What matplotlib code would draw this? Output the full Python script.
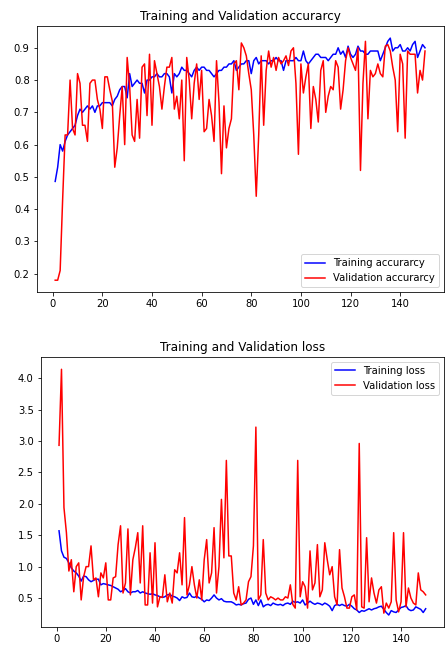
import matplotlib
matplotlib.use("Agg")
import matplotlib.pyplot as plt

# values, epochs 1..150
train_acc = [
    0.486, 0.53, 0.60, 0.58, 0.61, 0.63, 0.64, 0.65, 0.66, 0.69,
    0.71, 0.70, 0.71, 0.72, 0.71, 0.72, 0.70, 0.72, 0.72, 0.73,
    0.73, 0.73, 0.73, 0.72, 0.74, 0.75, 0.77, 0.78, 0.78, 0.745,
    0.82, 0.78, 0.79, 0.80, 0.79, 0.79, 0.76, 0.80, 0.80, 0.81,
    0.81, 0.82, 0.81, 0.81, 0.82, 0.82, 0.81, 0.76, 0.82, 0.81,
    0.82, 0.84, 0.83, 0.83, 0.82, 0.81, 0.83, 0.84, 0.83, 0.84,
    0.84, 0.83, 0.83, 0.82, 0.81, 0.82, 0.83, 0.83, 0.84, 0.84,
    0.85, 0.85, 0.86, 0.83, 0.84, 0.85, 0.85, 0.86, 0.86, 0.82,
    0.86, 0.87, 0.85, 0.86, 0.86, 0.86, 0.85, 0.86, 0.86, 0.87,
    0.86, 0.86, 0.83, 0.86, 0.86, 0.86, 0.86, 0.87, 0.86, 0.86,
    0.89, 0.86, 0.85, 0.86, 0.87, 0.88, 0.88, 0.87, 0.87, 0.87,
    0.86, 0.87, 0.88, 0.88, 0.90, 0.88, 0.89, 0.87, 0.905, 0.88,
    0.87, 0.88, 0.905, 0.89, 0.89, 0.88, 0.88, 0.89, 0.89, 0.89,
    0.89, 0.86, 0.88, 0.90, 0.92, 0.93, 0.89, 0.90, 0.90, 0.91,
    0.89, 0.89, 0.90, 0.89, 0.91, 0.92, 0.87, 0.89, 0.91, 0.90,
]

val_acc = [
    0.18, 0.18, 0.21, 0.43, 0.63, 0.63, 0.80, 0.65, 0.63, 0.82,
    0.79, 0.66, 0.66, 0.61, 0.79, 0.80, 0.80, 0.74, 0.71, 0.65,
    0.81, 0.81, 0.77, 0.735, 0.53, 0.59, 0.69, 0.78, 0.60, 0.87,
    0.78, 0.63, 0.61, 0.74, 0.62, 0.84, 0.85, 0.69, 0.88, 0.66,
    0.86, 0.82, 0.78, 0.71, 0.78, 0.84, 0.84, 0.87, 0.71, 0.75,
    0.68, 0.80, 0.55, 0.87, 0.80, 0.68, 0.79, 0.85, 0.74, 0.83,
    0.64, 0.65, 0.74, 0.69, 0.61, 0.86, 0.73, 0.51, 0.72, 0.59,
    0.65, 0.68, 0.85, 0.86, 0.77, 0.915, 0.90, 0.875, 0.82, 0.77,
    0.63, 0.44, 0.63, 0.875, 0.66, 0.83, 0.89, 0.84, 0.87, 0.83,
    0.87, 0.85, 0.86, 0.875, 0.845, 0.89, 0.90, 0.79, 0.57, 0.85,
    0.76, 0.81, 0.85, 0.65, 0.78, 0.74, 0.67, 0.83, 0.86, 0.70,
    0.75, 0.78, 0.77, 0.86, 0.84, 0.71, 0.77, 0.86, 0.90, 0.87,
    0.85, 0.83, 0.90, 0.52, 0.79, 0.92, 0.68, 0.83, 0.81, 0.82,
    0.85, 0.82, 0.81, 0.905, 0.91, 0.89, 0.84, 0.80, 0.64, 0.88,
    0.85, 0.62, 0.89, 0.88, 0.88, 0.88, 0.76, 0.83, 0.80, 0.89,
]

train_loss = [
    1.57, 1.25, 1.15, 1.13, 1.06, 0.98, 0.93, 0.90, 0.85, 0.77,
    0.85, 0.84, 0.79, 0.76, 0.78, 0.80, 0.80, 0.71, 0.73, 0.72,
    0.71, 0.70, 0.68, 0.66, 0.64, 0.60, 0.62, 0.65, 0.60, 0.58,
    0.60, 0.60, 0.62, 0.58, 0.60, 0.58, 0.57, 0.56, 0.57, 0.55,
    0.54, 0.52, 0.51, 0.52, 0.55, 0.56, 0.53, 0.52, 0.50, 0.46,
    0.52, 0.50, 0.51, 0.58, 0.52, 0.51, 0.53, 0.50, 0.48, 0.44,
    0.47, 0.46, 0.50, 0.55, 0.50, 0.47, 0.49, 0.45, 0.44, 0.44,
    0.44, 0.42, 0.39, 0.40, 0.39, 0.41, 0.42, 0.48, 0.50, 0.40,
    0.47, 0.38, 0.47, 0.36, 0.39, 0.40, 0.38, 0.42, 0.40, 0.39,
    0.40, 0.38, 0.41, 0.42, 0.40, 0.45, 0.43, 0.44, 0.42, 0.47,
    0.39, 0.42, 0.45, 0.42, 0.40, 0.42, 0.41, 0.39, 0.42, 0.40,
    0.37, 0.30, 0.38, 0.40, 0.38, 0.40, 0.38, 0.37, 0.40, 0.37,
    0.33, 0.31, 0.27, 0.30, 0.29, 0.31, 0.33, 0.31, 0.33, 0.34,
    0.36, 0.37, 0.32, 0.27, 0.23, 0.30, 0.28, 0.27, 0.31, 0.35,
    0.36, 0.38, 0.32, 0.30, 0.31, 0.36, 0.34, 0.32, 0.27, 0.33,
]

val_loss = [
    2.93, 4.14, 1.94, 1.54, 0.93, 1.11, 0.60, 1.00, 1.06, 0.47,
    0.84, 1.00, 1.00, 1.33, 0.79, 0.82, 0.52, 0.90, 0.82, 1.06,
    0.47, 0.47, 0.82, 0.84, 1.35, 1.65, 0.58, 0.74, 1.60, 0.55,
    1.11, 1.30, 1.54, 0.74, 1.65, 0.39, 0.39, 1.22, 0.42, 1.38,
    0.36, 0.52, 0.51, 0.87, 0.44, 0.58, 0.42, 0.95, 0.90, 1.22,
    0.71, 1.78, 0.55, 0.71, 1.00, 0.71, 0.50, 0.79, 0.47, 1.11,
    1.43, 0.74, 0.90, 1.62, 0.58, 1.00, 2.07, 1.14, 2.69, 1.17,
    1.17, 0.58, 0.47, 0.68, 0.39, 0.42, 0.47, 0.76, 0.84, 1.33,
    3.22, 0.47, 0.55, 1.43, 0.58, 0.47, 0.52, 0.50, 0.47, 0.50,
    0.47, 0.47, 0.52, 0.50, 0.71, 0.40, 0.34, 2.69, 0.52, 0.76,
    0.68, 0.34, 1.25, 0.63, 0.74, 1.35, 0.52, 0.63, 1.38, 1.11,
    0.87, 1.00, 0.52, 0.39, 1.27, 0.66, 0.52, 0.34, 0.34, 0.52,
    0.55, 0.31, 2.96, 0.36, 0.34, 1.46, 0.44, 0.82, 0.58, 0.42,
    0.63, 0.68, 0.26, 0.42, 0.34, 0.44, 1.54, 0.47, 0.28, 0.44,
    1.54, 0.36, 0.66, 0.50, 0.42, 0.39, 0.90, 0.63, 0.60, 0.55,
]


def main():
    W, H = 446, 647
    fig = plt.figure(figsize=(W / 72, H / 72), dpi=72)

    ax1 = fig.add_axes([36.7 / W, 1 - 292.3 / H, 406.8 / W, 266.3 / H])
    epochs = range(1, len(train_acc) + 1)
    ax1.plot(epochs, train_acc, 'b', label='Training accurarcy')
    ax1.plot(range(1, len(val_acc) + 1), val_acc, 'r', label='Validation accurarcy')
    ax1.set_title('Training and Validation accurarcy')
    ax1.legend(loc='lower right')

    ax2 = fig.add_axes([40.7 / W, 1 - 627.3 / H, 403.3 / W, 270.3 / H])
    ax2.plot(range(1, len(train_loss) + 1), train_loss, 'b', label='Training loss')
    ax2.plot(range(1, len(val_loss) + 1), val_loss, 'r', label='Validation loss')
    ax2.set_title('Training and Validation loss')
    ax2.legend(loc='upper right')

    fig.savefig('out.png', dpi=72)


if __name__ == '__main__':
    main()
